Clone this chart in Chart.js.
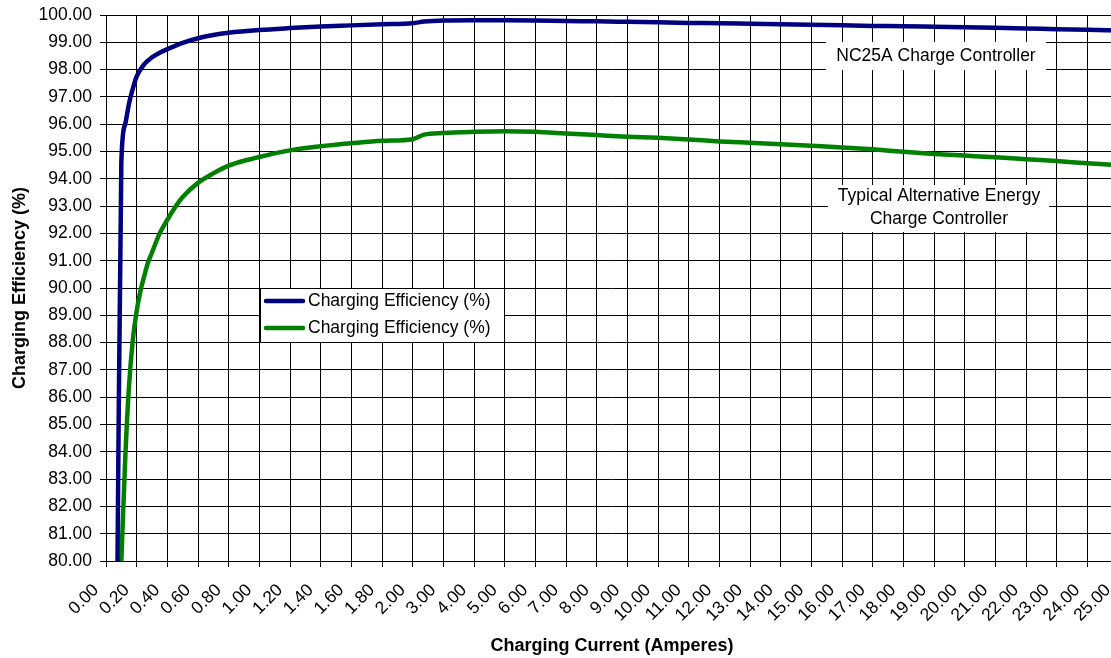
<!DOCTYPE html>
<html>
<head>
<meta charset="utf-8">
<script src="https://cdn.jsdelivr.net/npm/chart.js@4"></script>
<style>
  html, body { margin: 0; padding: 0; background: #fff; }
  #wrap { width: 1111px; height: 658px; overflow: hidden; position: relative; }
</style>
</head>
<body>
<div id="wrap"><canvas id="chart" width="1130" height="658"></canvas></div>
<script>
// x axis tick values (Excel category axis, uneven steps)
const tickValues = [0, 0.2, 0.4, 0.6, 0.8, 1.0, 1.2, 1.4, 1.6, 1.8, 2.0,
  3, 4, 5, 6, 7, 8, 9, 10, 11, 12, 13, 14, 15, 16, 17, 18, 19, 20, 21, 22, 23, 24, 25];

// NC25A controller (blue)
const blueCurrent = [0.075, 0.1, 0.125, 0.15, 0.175, 0.2, 0.25, 0.3, 0.35, 0.4, 0.5, 0.6, 0.7, 0.8,
  1.0, 1.2, 1.4, 1.6, 1.8, 2.0, 2.375, 3, 4, 5, 6, 7, 8, 9, 10, 11, 12, 13, 14, 15, 16, 17, 18, 19,
  20, 21, 22, 23, 24, 25];
const blueEff = [80.0, 94.6, 96.0, 96.75, 97.3, 97.75, 98.2, 98.45, 98.62, 98.75, 98.98, 99.15, 99.27, 99.35,
  99.45, 99.52, 99.58, 99.62, 99.66, 99.70, 99.76, 99.80, 99.81, 99.81, 99.80, 99.78, 99.77, 99.75,
  99.73, 99.71, 99.70, 99.68, 99.66, 99.64, 99.62, 99.60, 99.59, 99.57, 99.55, 99.53, 99.51, 99.48,
  99.46, 99.43];

// typical alternative energy controller (green)
const greenCurrent = [0.1, 0.125, 0.15, 0.175, 0.2, 0.225, 0.25, 0.275, 0.3, 0.35, 0.4, 0.45, 0.5, 0.6,
  0.7, 0.8, 0.9, 1.0, 1.2, 1.4, 1.6, 1.8, 2.0, 2.125, 2.375, 3, 4, 5, 6, 7, 8, 9, 10, 11, 12, 13, 14,
  15, 16, 17, 18, 19, 20, 21, 22, 23, 24, 25];
const greenEff = [80.0, 83.7, 86.4, 88.1, 89.15, 89.9, 90.45, 90.95, 91.3, 92.0, 92.5, 92.95, 93.33, 93.85,
  94.2, 94.48, 94.66, 94.8, 95.04, 95.19, 95.3, 95.39, 95.45, 95.5, 95.62, 95.68, 95.72, 95.74, 95.72,
  95.66, 95.6, 95.54, 95.5, 95.44, 95.37, 95.32, 95.27, 95.21, 95.15, 95.08, 94.99, 94.91, 94.85, 94.79,
  94.72, 94.65, 94.57, 94.5];

// 8 sub-steps between labelled ticks so the steep start can sit between them
const SUB = 8;
const categories = [];
for (let i = 0; i < tickValues.length - 1; i++) {
  for (let k = 0; k < SUB; k++) {
    categories.push((tickValues[i] + (tickValues[i + 1] - tickValues[i]) * k / SUB).toFixed(3));
  }
}
categories.push(tickValues[tickValues.length - 1].toFixed(3));

const toPoints = (xs, ys) => xs.map((c, i) => ({ x: c.toFixed(3), y: ys[i] }));

const FONT = '"Liberation Sans", Arial, sans-serif';

// legend box + the two text labels on the plot
const overlay = {
  id: 'overlay',
  afterDatasetsDraw(chart) {
    const c = chart.ctx;
    c.save();
    c.font = '17.5px ' + FONT;
    c.fillStyle = '#fff';
    c.fillRect(826, 42, 220, 28);
    c.fillRect(828, 185, 221, 47);
    c.fillStyle = '#000';
    c.textAlign = 'center';
    c.textBaseline = 'middle';
    c.fillText('NC25A Charge Controller', 936, 56);
    c.fillText('Typical Alternative Energy', 939, 196);
    c.fillText('Charge Controller', 939, 219);

    // legend
    c.fillStyle = '#fff';
    c.fillRect(260, 288, 245, 55);
    c.strokeStyle = '#000';
    c.lineWidth = 1;
    c.strokeRect(260.5, 288.5, 244, 54);
    chart.data.datasets.forEach((ds, i) => {
      const y = 301 + i * 27;
      c.strokeStyle = ds.borderColor;
      c.lineWidth = 4.5;
      c.lineCap = 'round';
      c.beginPath();
      c.moveTo(266, y);
      c.lineTo(303, y);
      c.stroke();
      c.fillStyle = '#000';
      c.textAlign = 'left';
      c.fillText(ds.label, 308, y);
    });
    c.restore();
  }
};

new Chart(document.getElementById('chart'), {
  type: 'line',
  data: {
    labels: categories,
    datasets: [
      {
        label: 'Charging Efficiency (%)',
        data: toPoints(blueCurrent, blueEff),
        borderColor: '#000080',
        borderWidth: 4.5,
        pointRadius: 0,
        cubicInterpolationMode: 'monotone',
        fill: false
      },
      {
        label: 'Charging Efficiency (%)',
        data: toPoints(greenCurrent, greenEff),
        borderColor: '#008000',
        borderWidth: 4.5,
        pointRadius: 0,
        cubicInterpolationMode: 'monotone',
        fill: false
      }
    ]
  },
  options: {
    responsive: false,
    animation: false,
    devicePixelRatio: 1,
    layout: { padding: { top: 15, right: 12, bottom: 0, left: 0 } },
    plugins: {
      legend: { display: false },
      tooltip: { enabled: false }
    },
    scales: {
      x: {
        type: 'category',
        offset: false,
        afterBuildTicks: (axis) => {
          axis.ticks = axis.ticks.filter((t, i) => i % SUB === 0);
        },
        afterFit: (axis) => {
          axis.height = 97;
          axis.paddingLeft = 0;
          axis.paddingRight = 0;
        },
        ticks: {
          autoSkip: false,
          minRotation: 45,
          maxRotation: 45,
          padding: 13,
          labelOffset: -10,
          color: '#000',
          font: { family: FONT, size: 17.5 },
          callback: function (v) { return (+this.getLabelForValue(v)).toFixed(2); }
        },
        grid: { color: '#000', lineWidth: 1, tickLength: 6, drawTicks: true },
        border: { color: '#000' },
        title: {
          display: true,
          text: 'Charging Current (Amperes)',
          color: '#000',
          padding: 1,
          font: { family: FONT, size: 18, weight: 'bold' }
        }
      },
      y: {
        min: 80,
        max: 100,
        afterFit: (axis) => {
          axis.width = 106;
          axis.paddingTop = 0;
          axis.paddingBottom = 0;
        },
        ticks: {
          stepSize: 1,
          padding: 8,
          color: '#000',
          font: { family: FONT, size: 17.5 },
          callback: (v) => v.toFixed(2)
        },
        grid: { color: '#000', lineWidth: 1, tickLength: 6 },
        border: { color: '#000' },
        title: {
          display: true,
          text: 'Charging Efficiency (%)',
          color: '#000',
          padding: 9,
          font: { family: FONT, size: 18, weight: 'bold' }
        }
      }
    }
  },
  plugins: [overlay]
});
</script>
</body>
</html>
